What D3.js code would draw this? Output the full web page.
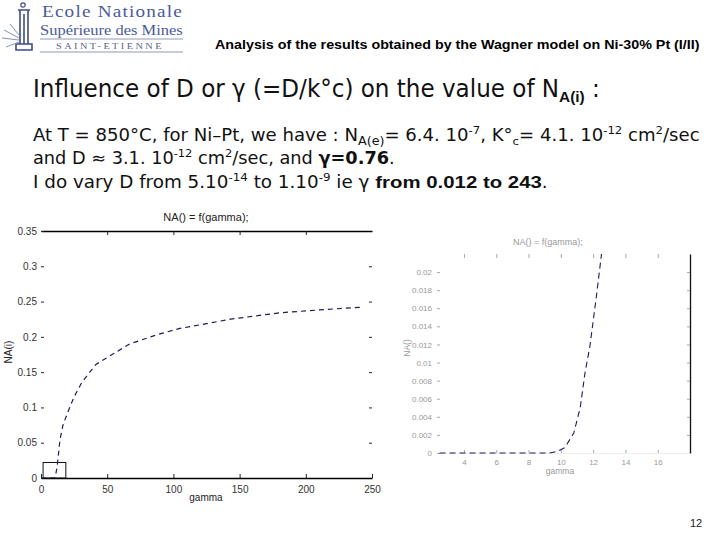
<!DOCTYPE html>
<html><head><meta charset="utf-8">
<script src="https://cdn.jsdelivr.net/npm/d3@7"></script>
<style>body{margin:0;background:#fff}svg{display:block}</style>
</head><body><svg id="s" width="720" height="540"></svg>
<script>
// ---- data ----
const gammaValues = [0.012, 2, 4, 6, 8, 9.3, 9.8, 10.25, 10.8, 11.2, 11.5, 11.8, 12.2, 12.5, 13, 14.3, 16.6, 20.4, 25, 31, 41.5, 52, 67, 87.6, 105, 120, 143, 180, 216, 243];
const naValues    = [0, 0, 0, 0, 0, 0, 0.0002, 0.0006, 0.0022, 0.005, 0.0089, 0.0118, 0.0173, 0.0217, 0.03, 0.054, 0.075, 0.094, 0.115, 0.136, 0.161, 0.173, 0.19, 0.203, 0.212, 0.217, 0.225, 0.234, 0.239, 0.242];
const leftXTicks = [0, 50, 100, 150, 200, 250];
const leftYTicks = [0, 0.05, 0.1, 0.15, 0.2, 0.25, 0.3, 0.35];
const rightXTicks = [4, 6, 8, 10, 12, 14, 16];
const rightYTicks = [0, 0.002, 0.004, 0.006, 0.008, 0.01, 0.012, 0.014, 0.016, 0.018, 0.02];
const leftXDomain = [0, 250];
const leftYDomain = [0, 0.35];
const rightXDomain = [2.33, 18];
const rightYDomain = [0, 0.022];
const chartTitle = "NA() = f(gamma);";
const xLabel = "gamma";
const leftYLabel = "NA(i)";
const rightYLabel = "NA()";

const data = gammaValues.map((g, i) => ({g, v: naValues[i]}));
const svg = d3.select("#s");

function fitX(sel, x, w) {
  const bw = sel.node().getBBox().width;
  sel.attr("transform", `translate(${x},0) scale(${w / bw},1)`);
}
// segments: [text, shift(px, negative=up), size, bold, family]
function richText(y, font, size, segs, x, w) {
  const t = svg.append("text").attr("y", y).attr("font-family", font).attr("font-size", size).attr("fill", "#111");
  let cur = 0;
  segs.forEach(s => {
    const sh = s[1] || 0;
    const ts = t.append("tspan").attr("dy", sh - cur).text(s[0]);
    cur = sh;
    if (s[2]) ts.attr("font-size", s[2]);
    if (s[3]) ts.attr("font-weight", "bold");
    if (s[4]) ts.attr("font-family", s[4]);
  });
  fitX(t, x, w);
  return t;
}

// ---- logo ----
const logo = svg.append("g");
const lc = "#3e4c86";
logo.append("circle").attr("cx", 23).attr("cy", 5).attr("r", 2.2).attr("fill", "none").attr("stroke", lc).attr("stroke-width", 1.2);
logo.append("path").attr("d", "M18,10 L30,10 M20,10 L20,44 M28,10 L28,44 M24,14 L24,44 M16,44 L32,44 L32,50 L16,50 Z")
  .attr("fill", "none").attr("stroke", lc).attr("stroke-width", 1.6);
logo.append("path").attr("d", "M4,30 L19,38 M2,38 L19,40 M6,47 L19,42 M10,24 L19,35")
  .attr("stroke", "#8a93b8").attr("stroke-width", 1);
const t1 = logo.append("text").attr("y", 17.5).attr("font-family", "Liberation Serif").attr("font-size", 16).attr("fill", "#4b5a9c").attr("letter-spacing", 1).text("Ecole Nationale");
fitX(t1, 42, 141);
const t2 = logo.append("text").attr("y", 35.5).attr("font-family", "Liberation Serif").attr("font-size", 15).attr("fill", "#4b5a9c").text("Supérieure des Mines");
fitX(t2, 40, 143);
logo.append("line").attr("x1", 40).attr("x2", 183).attr("y1", 39).attr("y2", 39).attr("stroke", "#9098b8");
logo.append("line").attr("x1", 40).attr("x2", 183).attr("y1", 52).attr("y2", 52).attr("stroke", "#9098b8");
const t3 = logo.append("text").attr("y", 49).attr("font-family", "Liberation Serif").attr("font-size", 8.5).attr("fill", "#5a5f80").attr("letter-spacing", 2).text("SAINT-ETIENNE");
fitX(t3, 56, 108);

// ---- header & texts ----
const hdr = svg.append("text").attr("y", 49).attr("font-family", "Liberation Sans").attr("font-weight", "bold").attr("font-size", 12).attr("fill", "#000")
  .text("Analysis of the results obtained by the Wagner model on Ni-30% Pt (I/II)");
fitX(hdr, 215, 485);

const bodyFont = "DejaVu Sans Condensed, DejaVu Sans";
richText(97, bodyFont, 25, [
  ["Influence of D or γ (=D/k°c) on the value of N"],
  ["A(i)", 5, 15, true, "Liberation Sans"],
  [" :", 0]
], 33, 567);

richText(141, bodyFont, 17, [
  ["At T = 850°C, for Ni–Pt, we have : N"],
  ["A(e)", 4, 12],
  ["= 6.4. 10", 0],
  ["-7", -7, 11],
  [", K°", 0],
  ["c", 4, 11],
  ["= 4.1. 10", 0],
  ["-12", -7, 11],
  [" cm", 0],
  ["2", -7, 11],
  ["/sec", 0]
], 33, 667);

richText(164, bodyFont, 17, [
  ["and D ≈ 3.1. 10"],
  ["-12", -7, 11],
  [" cm", 0],
  ["2", -7, 11],
  ["/sec, and ", 0],
  ["γ=0.76", 0, null, true],
  [".", 0]
], 33, 362);

richText(188, bodyFont, 17, [
  ["I do vary D from 5.10"],
  ["-14", -7, 11],
  [" to  1.10", 0],
  ["-9", -7, 11],
  [" ie γ ", 0],
  ["from 0.012 to 243", 0, null, true, "Liberation Sans"],
  [".", 0]
], 33, 515);

svg.append("text").attr("x", 696).attr("y", 527).attr("text-anchor", "middle").attr("font-family", "Liberation Sans").attr("font-size", 11).attr("fill", "#222").text("12");

// ---- left chart ----
const L = {x0: 41, x1: 372, y0: 478, y1: 231};
const lx = d3.scaleLinear().domain(leftXDomain).range([L.x0, L.x1]);
const ly = d3.scaleLinear().domain(leftYDomain).range([L.y0, L.y1]);
const gl = svg.append("g").attr("font-family", "Liberation Sans");
svg.append("clipPath").attr("id", "cl").append("rect").attr("x", L.x0).attr("y", L.y1).attr("width", L.x1 - L.x0).attr("height", L.y0 - L.y1);

const fmt = d => (d === 0 ? "0" : String(+d.toFixed(3)));
const axB = gl.append("g").attr("transform", `translate(0,${L.y0})`)
  .call(d3.axisBottom(lx).tickValues(leftXTicks).tickSizeInner(-4).tickSizeOuter(0).tickPadding(8).tickFormat(fmt));
const axT = gl.append("g").attr("transform", `translate(0,${L.y1})`)
  .call(d3.axisTop(lx).tickValues(leftXTicks.slice(1, -1)).tickSizeInner(-4).tickSizeOuter(0).tickFormat(""));
const axL = gl.append("g").attr("transform", `translate(${L.x0},0)`)
  .call(d3.axisLeft(ly).tickValues(leftYTicks).tickSizeInner(-3).tickSizeOuter(0).tickPadding(4).tickFormat(fmt));
axL.select(".domain").remove();
const axR = gl.append("g").attr("transform", `translate(${L.x1},0)`)
  .call(d3.axisRight(ly).tickValues(leftYTicks.slice(1, -1)).tickSizeInner(-3).tickSizeOuter(0).tickFormat(""));
axR.select(".domain").remove();
[axB, axT, axL, axR].forEach(a => {
  a.selectAll("text").attr("font-size", 10).attr("fill", "#333").attr("font-family", "Liberation Sans");
  a.selectAll("line").attr("stroke", "#222");
  a.selectAll(".domain").attr("stroke", "#000").attr("stroke-width", 1.3);
});

gl.append("text").attr("x", 206).attr("y", 221).attr("text-anchor", "middle").attr("font-size", 11).attr("fill", "#222").text(chartTitle);
gl.append("text").attr("x", 206).attr("y", 501).attr("text-anchor", "middle").attr("font-size", 10).attr("fill", "#222").text(xLabel);
gl.append("text").attr("transform", "translate(12,352) rotate(-90)").attr("text-anchor", "middle").attr("font-size", 10).attr("fill", "#222").text(leftYLabel);

// zoom box
gl.append("rect").attr("x", lx(rightXDomain[0]) - 1).attr("y", ly(rightYDomain[1]))
  .attr("width", lx(rightXDomain[1]) - lx(rightXDomain[0]) + 2).attr("height", ly(rightYDomain[0]) - ly(rightYDomain[1]))
  .attr("fill", "none").attr("stroke", "#111").attr("stroke-width", 1);

const lineL = d3.line().x(d => lx(d.g)).y(d => ly(d.v));
gl.append("path").datum(data).attr("d", lineL).attr("clip-path", "url(#cl)")
  .attr("fill", "none").attr("stroke", "#1c1c58").attr("stroke-width", 1.2).attr("stroke-dasharray", "5,4");

// ---- right chart ----
const R = {x0: 437, x1: 690, y0: 453, y1: 254};
const rx = d3.scaleLinear().domain(rightXDomain).range([R.x0, R.x1]);
const ry = d3.scaleLinear().domain(rightYDomain).range([R.y0, R.y1]);
const gr = svg.append("g").attr("font-family", "Liberation Sans");
svg.append("clipPath").attr("id", "cr").append("rect").attr("x", R.x0).attr("y", R.y1).attr("width", R.x1 - R.x0).attr("height", R.y0 - R.y1 + 2);
const faint = "#a8a8a8";

const rB = gr.append("g").attr("transform", `translate(0,${R.y0})`)
  .call(d3.axisBottom(rx).tickValues(rightXTicks).tickSizeInner(-3).tickSizeOuter(0).tickPadding(6));
rB.select(".domain").attr("stroke", "#eee");
const rT = gr.append("g").attr("transform", `translate(0,${R.y1})`)
  .call(d3.axisTop(rx).tickValues(rightXTicks).tickSizeInner(-4).tickSizeOuter(0).tickFormat(""));
rT.select(".domain").remove();
const rL = gr.append("g").attr("transform", `translate(${R.x0},0)`)
  .call(d3.axisLeft(ry).tickValues(rightYTicks).tickSizeInner(-3).tickSizeOuter(0).tickPadding(5).tickFormat(fmt));
rL.select(".domain").remove();
const rR = gr.append("g").attr("transform", `translate(${R.x1},0)`)
  .call(d3.axisRight(ry).tickValues(rightYTicks.slice(1)).tickSizeInner(-3).tickSizeOuter(0).tickFormat(""));
rR.select(".domain").attr("stroke", "#111").attr("stroke-width", 1.3);
[rB, rT, rL, rR].forEach(a => {
  a.selectAll("text").attr("font-size", 8).attr("fill", "#999").attr("font-family", "Liberation Sans");
  a.selectAll("line").attr("stroke", faint);
});
gr.append("text").attr("x", 548).attr("y", 245).attr("text-anchor", "middle").attr("font-size", 9).attr("fill", "#999").text(chartTitle);
gr.append("text").attr("x", 560).attr("y", 474).attr("text-anchor", "middle").attr("font-size", 8.5).attr("fill", "#999").text(xLabel);
gr.append("text").attr("transform", "translate(410,348) rotate(-90)").attr("text-anchor", "middle").attr("font-size", 8.5).attr("fill", "#999").text(rightYLabel);

const lineR = d3.line().x(d => rx(d.g)).y(d => ry(d.v));
gr.append("path").datum(data).attr("d", lineR).attr("clip-path", "url(#cr)")
  .attr("fill", "none").attr("stroke", "#1c1c58").attr("stroke-width", 1.1).attr("stroke-dasharray", "6,4");
</script></body></html>
